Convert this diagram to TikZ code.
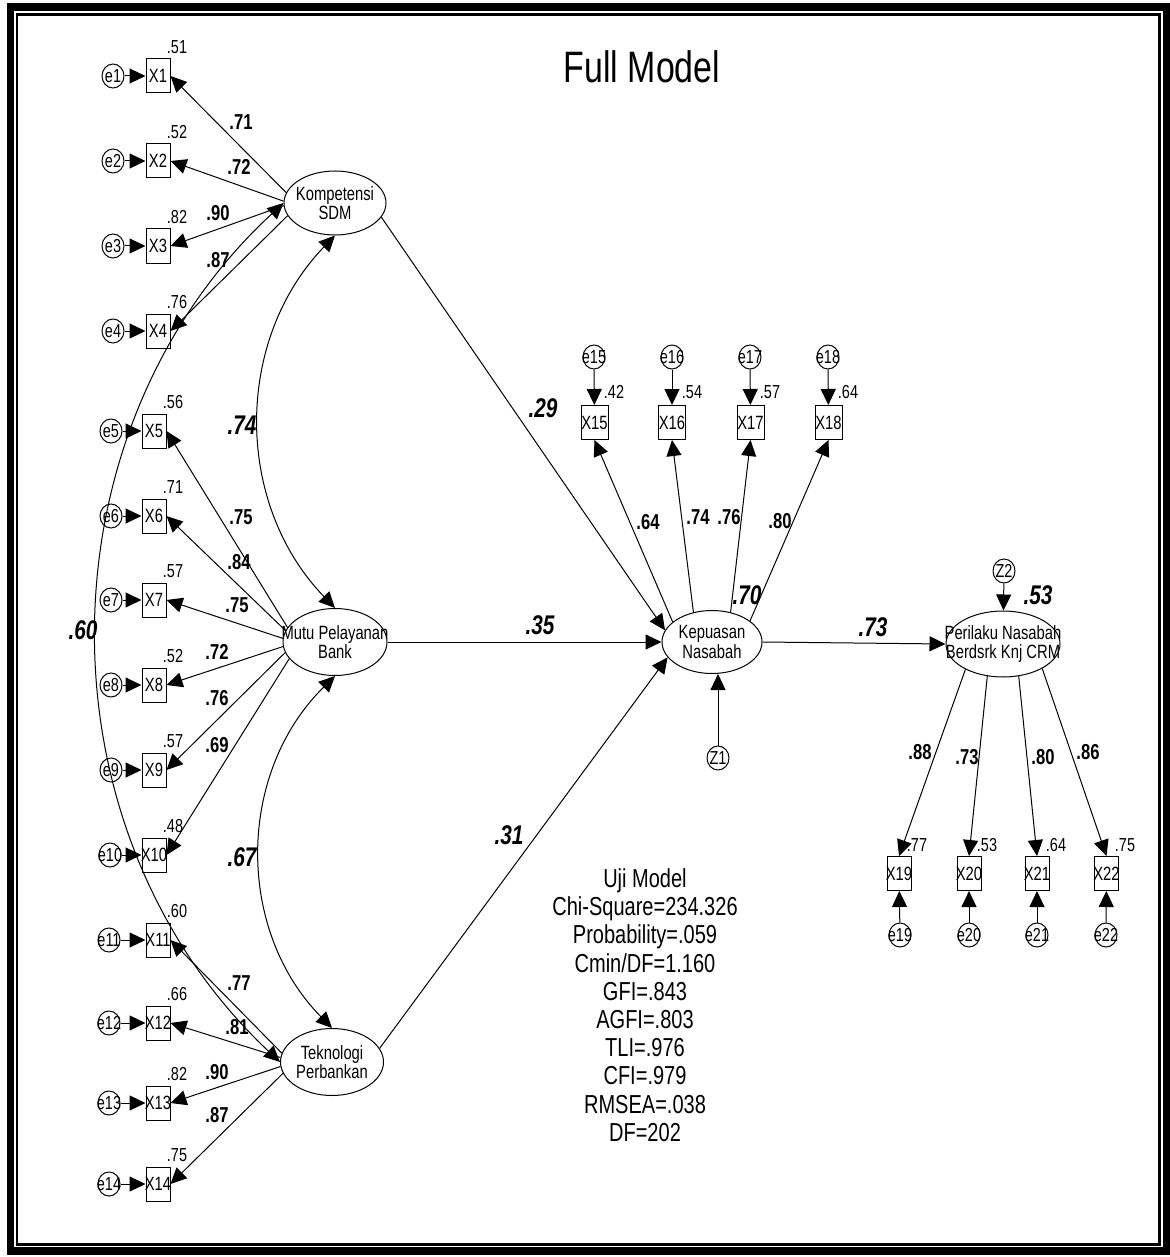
\documentclass[tikz,border=0pt]{standalone}
\usepackage{fontspec}
\setmainfont{Liberation Sans}[FakeStretch=0.77]
\usetikzlibrary{arrows.meta, shapes.geometric, positioning}

\begin{document}
\begin{tikzpicture}[x=0.5pt, y=0.5pt, >={Triangle[length=8pt,width=7.5pt]}, line width=0.5pt,
    ind/.style={draw, rectangle, minimum width=12pt, minimum height=17pt, inner sep=0pt,
      font=\fontsize{9.6}{9.6}\selectfont,
      execute at begin node={\hbox to 0pt\bgroup\hss}, execute at end node={\hss\egroup}},
    err/.style={draw, ellipse, minimum width=11pt, minimum height=12pt, inner sep=0pt,
      font=\fontsize{9.4}{9.4}\selectfont,
      execute at begin node={\hbox to 0pt\bgroup\hss}, execute at end node={\hss\egroup}},
    lat/.style={draw, ellipse, inner sep=0pt},
    lattext/.style={align=center, inner sep=0pt, font=\fontsize{9.6}{9.8}\selectfont},
    rsq/.style={inner sep=0pt, font=\fontsize{9.4}{9.4}\selectfont},
    ldg/.style={inner sep=0pt, font=\fontsize{10.8}{10.8}\selectfont\bfseries},
    coef/.style={inner sep=0pt, font=\fontsize{13.5}{13.5}\selectfont\bfseries\itshape}]
  \useasboundingbox (0,0) rectangle (1170,-1257);
  % frame
  \draw[line width=3.75pt] (10.5,-7) rectangle (1166.5,-1251);
  \draw[line width=1.2pt] (17,-14.5) rectangle (1159.5,-1244.5);
  \node[font=\fontsize{22}{22}\selectfont] (title) at (642,-67) {Full Model};

  % latent variables
  \node[lat, minimum width=51pt, minimum height=32pt]   (k)  at (335,-203)  {};
  \node[lattext] (kl)  at (k)  {Kompetensi\\SDM};
  \node[lat, minimum width=52pt, minimum height=33.5pt] (m)  at (335,-642)  {};
  \node[lattext] (ml)  at (m)  {Mutu Pelayanan\\Bank};
  \node[lat, minimum width=51.5pt, minimum height=33.5pt] (t) at (332,-1062) {};
  \node[lattext] (tl)  at (t)  {Teknologi\\Perbankan};
  \node[lat, minimum width=50pt, minimum height=31.5pt] (kp) at (712,-642)  {};
  \node[lattext] (kpl) at (kp) {Kepuasan\\Nasabah};
  \node[lat, minimum width=57pt, minimum height=33pt]   (pr) at (1003,-644) {};
  \node[lattext] (prl) at (pr) {Perilaku Nasabah\\Berdsrk Knj CRM};
  \node[err] (z1) at (718,-758)  {Z1};
  \node[err] (z2) at (1004,-571) {Z2};

  % Kompetensi SDM: X1 - X4
  \node[ind] (x1) at (158,-76)  {X1}; \node[err] (e1) at (113,-76)  {e1}; \node[rsq] (r1) at (177,-47)  {.51};
  \node[ind] (x2) at (158,-161) {X2}; \node[err] (e2) at (113,-161) {e2}; \node[rsq] (r2) at (177,-132) {.52};
  \node[ind] (x3) at (158,-246) {X3}; \node[err] (e3) at (113,-246) {e3}; \node[rsq] (r3) at (177,-217) {.82};
  \node[ind] (x4) at (158,-331) {X4}; \node[err] (e4) at (113,-331) {e4}; \node[rsq] (r4) at (177,-302) {.76};
  \draw[->] (e1) -- (x1); \draw[->] (e2) -- (x2); \draw[->] (e3) -- (x3); \draw[->] (e4) -- (x4);
  \draw[->] (k.168) -- (x1.east); \node[ldg] (l1) at (241,-122) {.71};
  \draw[->] (k.178) -- (x2.east); \node[ldg] (l2) at (239,-167) {.72};
  \draw[->] (k.183) -- (x3.east); \node[ldg] (l3) at (218,-213) {.90};
  \draw[->] (k.195) -- (x4.east); \node[ldg] (l4) at (218,-260) {.87};

  % Mutu Pelayanan Bank: X5 - X10
  \node[ind] (x5)  at (154,-431) {X5};  \node[err] (e5)  at (111,-431) {e5};  \node[rsq] (r5)  at (173,-402) {.56};
  \node[ind] (x6)  at (154,-516) {X6};  \node[err] (e6)  at (111,-516) {e6};  \node[rsq] (r6)  at (173,-487) {.71};
  \node[ind] (x7)  at (154,-600) {X7};  \node[err] (e7)  at (111,-600) {e7};  \node[rsq] (r7)  at (173,-571) {.57};
  \node[ind] (x8)  at (154,-685) {X8};  \node[err] (e8)  at (111,-685) {e8};  \node[rsq] (r8)  at (173,-656) {.52};
  \node[ind] (x9)  at (154,-770) {X9};  \node[err] (e9)  at (111,-770) {e9};  \node[rsq] (r9)  at (173,-741) {.57};
  \node[ind] (x10) at (154,-855) {X10}; \node[err] (e10) at (110,-855) {e10}; \node[rsq] (r10) at (173,-826) {.48};
  \draw[->] (e5) -- (x5); \draw[->] (e6) -- (x6); \draw[->] (e7) -- (x7);
  \draw[->] (e8) -- (x8); \draw[->] (e9) -- (x9); \draw[->] (e10) -- (x10);
  \draw[->] (m.163) -- (x5.east);  \node[ldg] (l5)  at (241,-517) {.75};
  \draw[->] (m.167) -- (x6.east);  \node[ldg] (l6)  at (239,-562) {.84};
  \draw[->] (m.176) -- (x7.east);  \node[ldg] (l7)  at (237,-605) {.75};
  \draw[->] (m.185) -- (x8.east);  \node[ldg] (l8)  at (217,-652) {.72};
  \draw[->] (m.192) -- (x9.east);  \node[ldg] (l9)  at (217,-698) {.76};
  \draw[->] (m.200) -- (x10.east); \node[ldg] (l10) at (217,-745) {.69};

  % Teknologi Perbankan: X11 - X14
  \node[ind] (x11) at (158,-940)  {X11}; \node[err] (e11) at (109,-940)  {e11}; \node[rsq] (r11) at (177,-911)  {.60};
  \node[ind] (x12) at (158,-1023) {X12}; \node[err] (e12) at (109,-1023) {e12}; \node[rsq] (r12) at (177,-994)  {.66};
  \node[ind] (x13) at (158,-1103) {X13}; \node[err] (e13) at (109,-1103) {e13}; \node[rsq] (r13) at (177,-1074) {.82};
  \node[ind] (x14) at (158,-1184) {X14}; \node[err] (e14) at (109,-1184) {e14}; \node[rsq] (r14) at (177,-1155) {.75};
  \draw[->] (e11) -- (x11); \draw[->] (e12) -- (x12); \draw[->] (e13) -- (x13); \draw[->] (e14) -- (x14);
  \draw[->] (t.170) -- (x11.east); \node[ldg] (l11) at (239,-983)  {.77};
  \draw[->] (t.175) -- (x12.east); \node[ldg] (l12) at (237,-1027) {.81};
  \draw[->] (t.185) -- (x13.east); \node[ldg] (l13) at (217,-1072) {.90};
  \draw[->] (t.193) -- (x14.east); \node[ldg] (l14) at (217,-1115) {.87};

  % Kepuasan Nasabah: X15 - X18
  \node[ind, minimum width=13.5pt] (x15) at (594.5,-422.5) {X15}; \node[err] (e15) at (594,-357) {e15}; \node[rsq] (r15) at (614,-392) {.42};
  \node[ind, minimum width=13.5pt] (x16) at (672,-422.5)   {X16}; \node[err] (e16) at (672,-357) {e16}; \node[rsq] (r16) at (692,-392) {.54};
  \node[ind, minimum width=13.5pt] (x17) at (750.5,-422.5) {X17}; \node[err] (e17) at (750,-357) {e17}; \node[rsq] (r17) at (770,-392) {.57};
  \node[ind, minimum width=13.5pt] (x18) at (828.5,-422.5) {X18}; \node[err] (e18) at (828,-357) {e18}; \node[rsq] (r18) at (848,-392) {.64};
  \draw[->] (e15) -- (x15); \draw[->] (e16) -- (x16); \draw[->] (e17) -- (x17); \draw[->] (e18) -- (x18);
  \draw[->] (kp.153) -- (x15.south); \node[ldg] (l15) at (648,-522) {.64};
  \draw[->] (kp.122) -- (x16.south); \node[ldg] (l16) at (698,-517) {.74};
  \draw[->] (kp.58)  -- (x17.south); \node[ldg] (l17) at (729,-517) {.76};
  \draw[->] (kp.29)  -- (x18.south); \node[ldg] (l18) at (780,-521) {.80};
  \draw[->] (z1.north) -- (z1.north |- kp.south);
  \node[coef] (c70) at (747,-595) {.70};

  % Perilaku Nasabah: X19 - X22
  \node[ind] (x19) at (899,-873.5)    {X19}; \node[err] (e19) at (900,-935)  {e19}; \node[rsq] (r19) at (917,-845)  {.77};
  \node[ind] (x20) at (969,-873.5)    {X20}; \node[err] (e20) at (969,-935)  {e20}; \node[rsq] (r20) at (987,-845)  {.53};
  \node[ind] (x21) at (1037,-873.5)   {X21}; \node[err] (e21) at (1037,-935) {e21}; \node[rsq] (r21) at (1056,-845) {.64};
  \node[ind] (x22) at (1106.5,-873.5) {X22}; \node[err] (e22) at (1106,-935) {e22}; \node[rsq] (r22) at (1125,-845) {.75};
  \draw[->] (e19) -- (x19); \draw[->] (e20) -- (x20); \draw[->] (e21) -- (x21); \draw[->] (e22) -- (x22);
  \draw[->] (pr.214) -- (x19.north); \node[ldg] (l19) at (920,-752)  {.88};
  \draw[->] (pr.244) -- (x20.north); \node[ldg] (l20) at (967,-757)  {.73};
  \draw[->] (pr.296) -- (x21.north); \node[ldg] (l21) at (1043,-757) {.80};
  \draw[->] (pr.328) -- (x22.north); \node[ldg] (l22) at (1088,-752) {.86};
  \draw[->] (z2) -- (pr);
  \node[coef] (c53) at (1038,-595) {.53};

  % structural paths
  \draw[->] (k.343) -- (kp.166); \node[coef] (c29) at (543,-408) {.29};
  \draw[->] (m.east) -- (kp.west); \node[coef] (c35) at (540,-625) {.35};
  \draw[->] (t.16) -- (kp.199);  \node[coef] (c31) at (509,-835) {.31};
  \draw[->] (kp.east) -- (pr.west); \node[coef] (c73) at (873,-627) {.73};

  % covariances
  \draw[<->] (k.south) to[bend right=44] (m.north); \node[coef] (c74) at (242,-425) {.74};
  \draw[<->] (m.south) to[bend right=45] (t.north); \node[coef] (c67) at (242,-857) {.67};
  \draw[<->] (k.west) to[bend right=47] (t.west);   \node[coef] (c60) at (83,-630)  {.60};

  % model fit
  \node[align=center, font=\fontsize{13}{14.1}\selectfont] (fit) at (645,-1005)
    {Uji Model\\Chi-Square=234.326\\Probability=.059\\Cmin/DF=1.160\\GFI=.843\\AGFI=.803\\TLI=.976\\CFI=.979\\RMSEA=.038\\DF=202};
\end{tikzpicture}
\end{document}
